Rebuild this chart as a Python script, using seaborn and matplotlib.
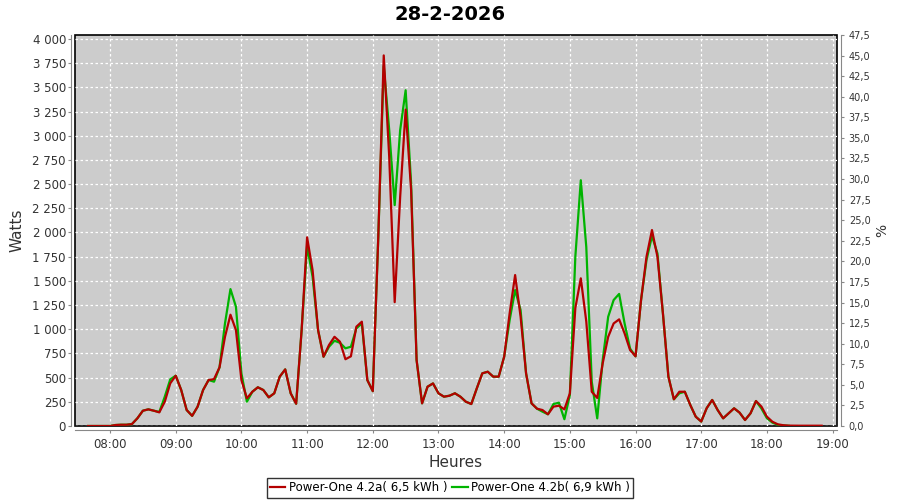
# Courbe de puissance journaliere - deux onduleurs Power-One

import pandas as pd
import numpy as np
import matplotlib.pyplot as plt
import matplotlib.dates as mdates
from matplotlib.ticker import MultipleLocator, FuncFormatter
import seaborn as sns

# Donnees (W), un releve toutes les 5 minutes de 07:40 a 18:50
titre = "28-2-2026"
label_a = "Power-One 4.2a( 6,5 kWh )"
label_b = "Power-One 4.2b( 6,9 kWh )"

heures = pd.date_range("2026-02-28 07:40", "2026-02-28 18:50", freq="5min")

# onduleur a (rouge)
watts_a = [
    0, 0, 0, 0,                                                        # 07:40
    0, 10, 13, 13, 20, 80, 158, 172, 158, 141, 251, 441,               # 08:00
    520, 372, 165, 105, 200, 372, 475, 485, 606, 922, 1150, 992,       # 09:00
    475, 286, 354, 400, 372, 296, 338, 510, 585, 338, 230, 992,        # 10:00
    1950, 1611, 992, 716, 837, 922, 871, 690, 720, 1026, 1078, 475,    # 11:00
    360, 1950, 3830, 2782, 1280, 2369, 3270, 2438, 682, 234, 406, 440, # 12:00
    338, 303, 313, 338, 303, 251, 227, 389, 544, 561, 510, 510,        # 13:00
    716, 1164, 1560, 1129, 544, 234, 179, 165, 121, 200, 210, 172,     # 14:00
    338, 1220, 1526, 1080, 354, 290, 648, 922, 1060, 1102, 957, 785,   # 15:00
    720, 1300, 1749, 2025, 1749, 1164, 510, 276, 354, 354, 217, 96,    # 16:00
    46, 185, 269, 165, 79, 131, 183, 138, 62, 131, 258, 200,           # 17:00
    96, 44, 17, 8, 4, 3, 3, 3, 3, 3, 3,                                # 18:00
]

# onduleur b (vert)
watts_b = [
    0, 0, 0, 0,
    0, 10, 13, 13, 20, 80, 158, 172, 158, 145, 303, 482,
    520, 372, 165, 105, 200, 372, 475, 458, 606, 1060, 1415, 1233,
    544, 251, 354, 400, 372, 296, 338, 510, 585, 338, 230, 992,
    1860, 1542, 992, 716, 819, 881, 860, 803, 819, 1009, 1060, 475,
    360, 1950, 3720, 3058, 2283, 3058, 3470, 2507, 682, 234, 406, 440,
    338, 303, 313, 338, 303, 251, 227, 389, 544, 561, 510, 510,
    716, 1095, 1405, 1198, 544, 234, 179, 148, 121, 227, 241, 70,
    320, 1750, 2540, 1850, 458, 79, 682, 1129, 1302, 1365, 1060, 800,
    720, 1300, 1715, 1963, 1783, 1164, 510, 276, 338, 354, 217, 96,
    46, 185, 269, 165, 79, 131, 183, 138, 62, 131, 258, 180,
    80, 35, 12, 5, 2, np.nan, np.nan, np.nan, np.nan, np.nan, np.nan,
]

df = pd.DataFrame({"heure": heures, "a": watts_a, "b": watts_b})

rouge = "#b40000"
vert = "#00b400"
gris = "#888888"

fig = plt.figure(figsize=(9, 5), dpi=100)
ax = fig.add_axes([75 / 900, 1 - 426 / 500, 762 / 900, 391 / 500])
ax.set_facecolor("#cccccc")

# vert d'abord, rouge par dessus
sns.lineplot(data=df, x="heure", y="b", ax=ax, color=vert, linewidth=1.6, label=label_b)
sns.lineplot(data=df, x="heure", y="a", ax=ax, color=rouge, linewidth=1.6, label=label_a)

# axe des x
ax.set_xlim(pd.Timestamp("2026-02-28 07:28"), pd.Timestamp("2026-02-28 19:04"))
ax.xaxis.set_major_locator(mdates.HourLocator())
ax.xaxis.set_major_formatter(mdates.DateFormatter("%H:%M"))
ax.set_xlabel("Heures", fontsize=11, color="#333333", labelpad=3)

# axe des y (Watts)
ax.set_ylim(0, 4041)
ax.yaxis.set_major_locator(MultipleLocator(250))
ax.yaxis.set_major_formatter(FuncFormatter(lambda v, p: f"{int(v):,}".replace(",", " ")))
ax.set_ylabel("Watts", fontsize=11, color="#333333", labelpad=6)

ax.grid(True, color="white", linestyle=(0, (2, 2)), linewidth=0.9)

# cadre noir autour de la zone de trace, axes gris decales
ax.patch.set_edgecolor("black")
ax.patch.set_linewidth(1.2)
for s in ["top", "right"]:
    ax.spines[s].set_visible(False)
for s in ["left", "bottom"]:
    ax.spines[s].set_position(("outward", 3))
    ax.spines[s].set_color(gris)
ax.tick_params(axis="both", direction="out", length=2, color=gris, labelsize=8.5, labelcolor="#333333")
ax.tick_params(axis="y", pad=1.5)

# axe de droite (%)
ax2 = ax.twinx()
ax2.set_ylim(0, 47.5)
ax2.yaxis.set_major_locator(MultipleLocator(2.5))
ax2.yaxis.set_major_formatter(FuncFormatter(lambda v, p: f"{v:.1f}".replace(".", ",")))
ax2.set_ylabel("%", fontsize=10, color="#333333", labelpad=3)
for s in ["top", "left", "bottom"]:
    ax2.spines[s].set_visible(False)
ax2.spines["right"].set_position(("outward", 3))
ax2.spines["right"].set_color(gris)
ax2.tick_params(axis="y", direction="out", length=2, color=gris, labelsize=7, labelcolor="#333333")

fig.suptitle(titre, fontsize=14, fontweight="bold", x=0.5, y=0.99)

# legende en bas, rouge en premier
handles, labels = ax.get_legend_handles_labels()
ax.get_legend().remove()
leg = fig.legend(handles[::-1], labels[::-1], loc="lower center", bbox_to_anchor=(0.5, 0.0),
                 ncol=2, fontsize=8.5, frameon=True, fancybox=False, borderpad=0.3,
                 columnspacing=0.4, handlelength=1.3, handletextpad=0.3, borderaxespad=0.2)
leg.get_frame().set_edgecolor("black")
leg.get_frame().set_linewidth(1)

plt.savefig("out.png", dpi=100)
